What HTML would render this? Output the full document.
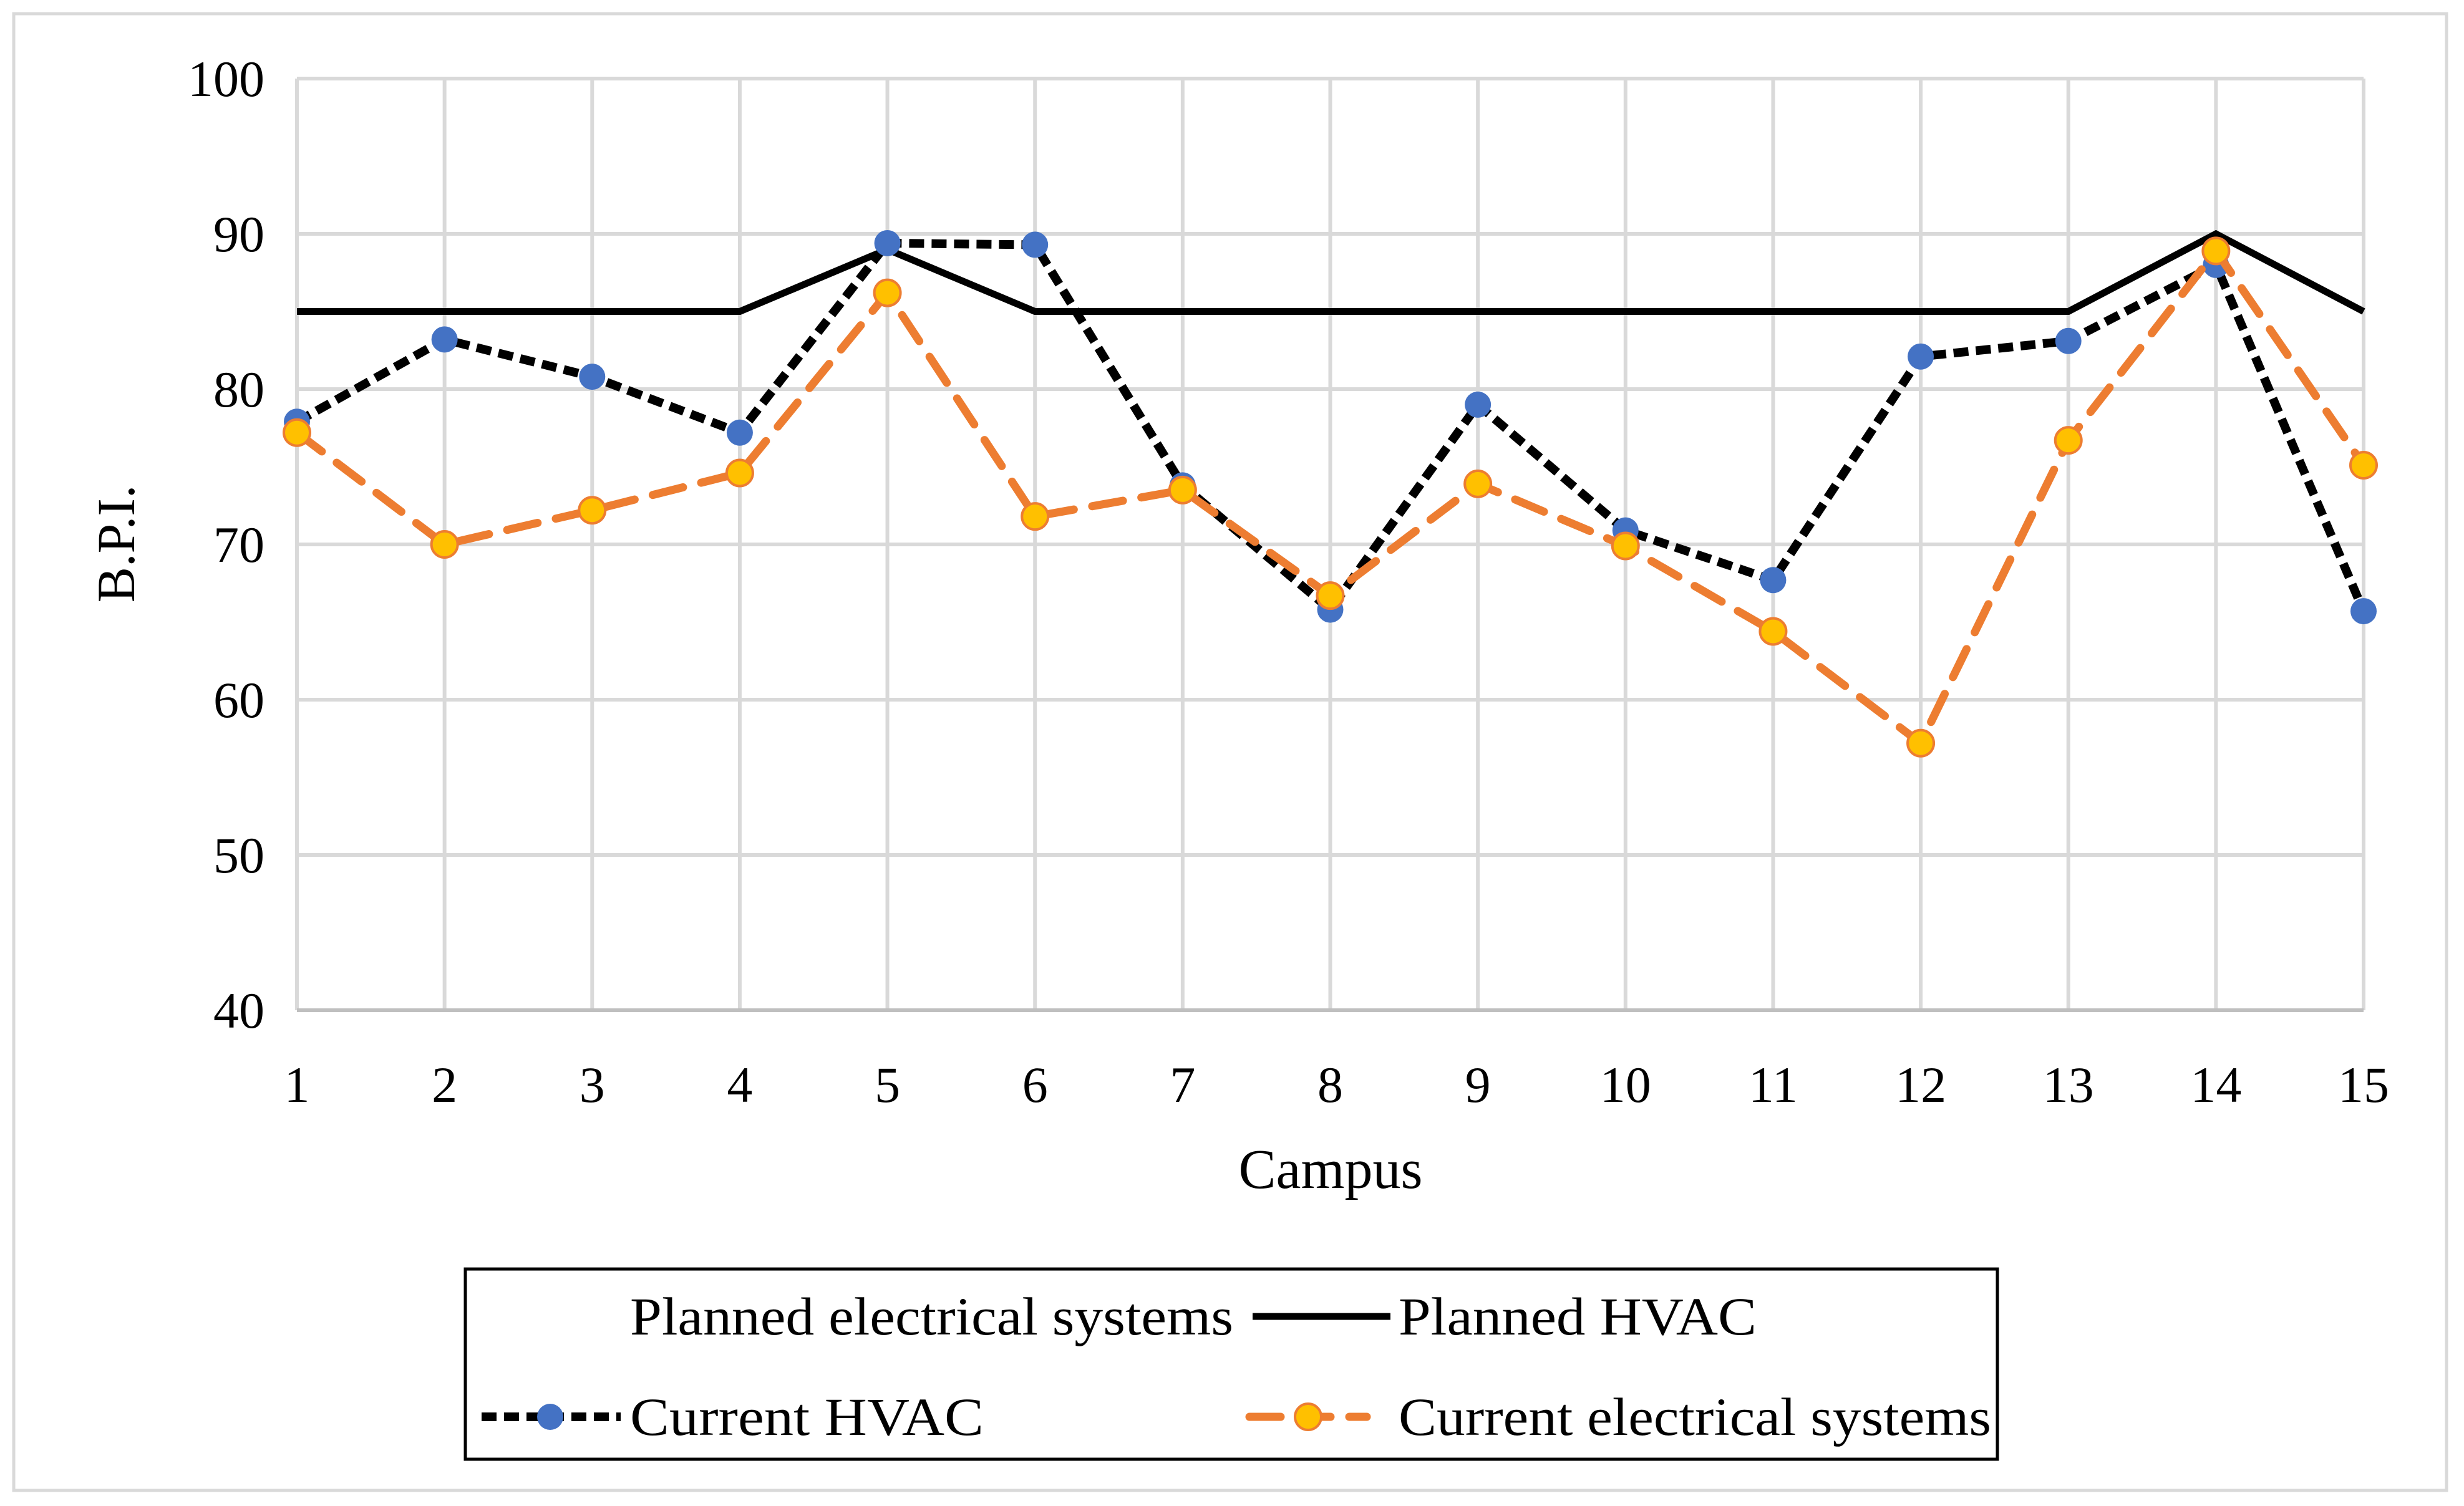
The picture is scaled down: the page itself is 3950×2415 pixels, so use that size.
<!DOCTYPE html>
<html><head><meta charset="utf-8"><style>
html,body{margin:0;padding:0;background:#fff}
svg{display:block}
text{font-family:"Liberation Serif",serif;fill:#000}
</style></head><body>
<svg id="chart" width="3950" height="2415" viewBox="0 0 3950 2415" xmlns="http://www.w3.org/2000/svg">
<rect x="22" y="22" width="3900" height="2368" fill="#fff" stroke="#d9d9d9" stroke-width="5"/>
<g id="grid"></g>
<g id="series"></g>
<g id="axes"></g>
<text transform="translate(215,872) rotate(-90)" text-anchor="middle" font-size="86">B.P.I.</text>
<text x="2133" y="1905" text-anchor="middle" font-size="90">Campus</text>
<g>
<rect x="746" y="2035" width="2456" height="305" fill="#fff" stroke="#000" stroke-width="5"/>
<text x="1010" y="2140" font-size="86" textLength="967" lengthAdjust="spacingAndGlyphs">Planned electrical systems</text>
<line x1="2008" y1="2111" x2="2229" y2="2111" stroke="#000" stroke-width="11"/>
<text x="2242" y="2140" font-size="86" textLength="574" lengthAdjust="spacingAndGlyphs">Planned HVAC</text>
<line x1="772" y1="2272" x2="995" y2="2272" stroke="#000" stroke-width="14" stroke-dasharray="24,12"/>
<circle cx="882" cy="2272" r="21" fill="#4472c4"/>
<text x="1010" y="2301" font-size="86" textLength="567" lengthAdjust="spacingAndGlyphs">Current HVAC</text>
<line x1="2003" y1="2272" x2="2191" y2="2272" stroke="#ed7d31" stroke-width="13" stroke-dasharray="50,30" stroke-linecap="round"/>
<circle cx="2097" cy="2272" r="21" fill="#ffc000" stroke="#ed7d31" stroke-width="4"/>
<text x="2242" y="2301" font-size="86" textLength="950" lengthAdjust="spacingAndGlyphs">Current electrical systems</text>
</g>
</svg>
<script>
const categories=[1,2,3,4,5,6,7,8,9,10,11,12,13,14,15];
const plannedHVAC=[85,85,85,85,89,85,85,85,85,85,85,85,85,90,85];
const currentHVAC=[77.9,83.2,80.8,77.2,89.4,89.3,73.8,65.8,79,70.9,67.7,82.1,83.1,88,65.7];
const currentElec=[77.2,70,72.2,74.6,86.2,71.8,73.5,66.7,73.9,69.9,64.4,57.2,76.7,88.9,75.1];
const yTicks=[40,50,60,70,80,90,100];
const NS="http://www.w3.org/2000/svg";
const X0=476,X1=3789,Y0=1620,Y1=126;
function xs(i){return X0+(X1-X0)*i/(categories.length-1);}
function ys(v){return Y0-(v-40)/60*(Y0-Y1);}
function mk(tag,attrs,parent){const e=document.createElementNS(NS,tag);for(const k in attrs)e.setAttribute(k,attrs[k]);parent.appendChild(e);return e;}
const grid=document.getElementById('grid'),axes=document.getElementById('axes'),ser=document.getElementById('series');
yTicks.forEach(t=>{
 const l=mk('line',{x1:X0,x2:X1,y1:ys(t),y2:ys(t),stroke:'#d9d9d9','stroke-width':6},grid);
 
 
 const tx=mk('text',{x:424,y:ys(t)+28,'text-anchor':'end','font-size':82},axes);
 tx.textContent=t;
 
 
});
categories.forEach((c,i)=>{
 const l=mk('line',{x1:xs(i),x2:xs(i),y1:Y1,y2:Y0,stroke:'#d9d9d9','stroke-width':6},grid);
 
 
 const tx=mk('text',{x:xs(i),y:1767,'text-anchor':'middle','font-size':82},axes);
 tx.textContent=c;
 
 
});
const ax=mk('line',{x1:X0,x2:X1,y1:Y0,y2:Y0,stroke:'#bfbfbf','stroke-width':6},grid);


function pts(arr){return arr.map((v,i)=>xs(i)+','+ys(v)).join(' ');}
const p1=mk('polyline',{points:pts(plannedHVAC),fill:'none',stroke:'#000','stroke-width':11},ser);


const p2=mk('polyline',{points:pts(currentHVAC),fill:'none',stroke:'#000','stroke-width':14,'stroke-dasharray':'24,12'},ser);


currentHVAC.forEach((v,i)=>{
 const c=mk('circle',{cx:xs(i),cy:ys(v),r:21,fill:'#4472c4'},ser);
 
 
});
const p3=mk('polyline',{points:pts(currentElec),fill:'none',stroke:'#ed7d31','stroke-width':13,'stroke-dasharray':'50,30','stroke-linecap':'round'},ser);


currentElec.forEach((v,i)=>{
 const c=mk('circle',{cx:xs(i),cy:ys(v),r:21,fill:'#ffc000',stroke:'#ed7d31','stroke-width':4},ser);
 
 
});
</script>
</body></html>
